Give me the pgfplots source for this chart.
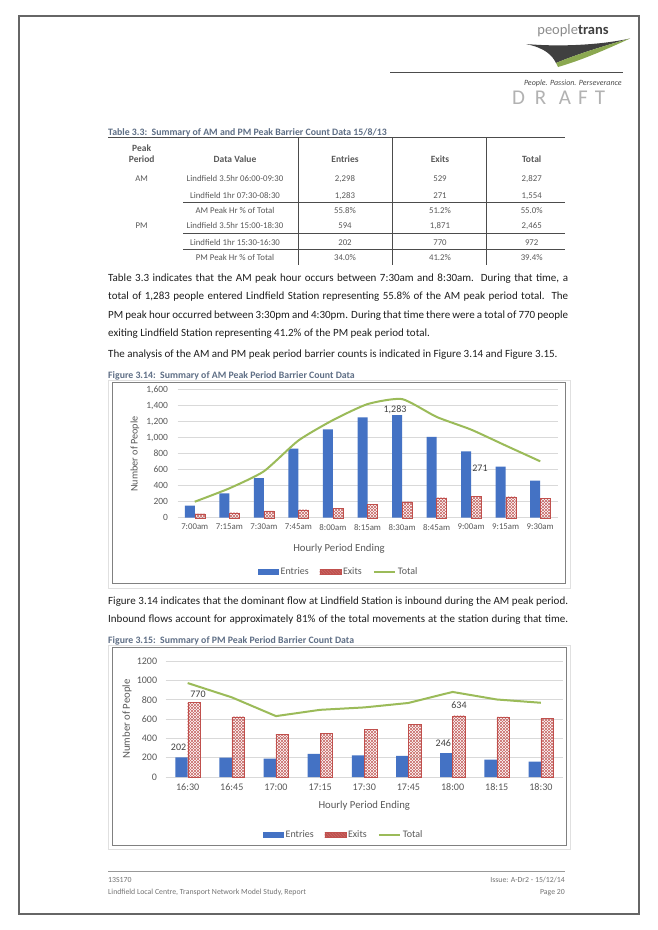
\documentclass[border=0pt]{standalone}
\usepackage{fontspec}
\setmainfont{Carlito}
\usepackage{pgfplots}
\pgfplotsset{compat=1.18}
\usetikzlibrary{patterns}
\definecolor{entblue}{HTML}{4472C4}
\definecolor{exred}{HTML}{C0504D}
\definecolor{totgreen}{HTML}{9BBB59}
\definecolor{txtgray}{HTML}{595959}
\definecolor{capblue}{HTML}{5F6F86}
\definecolor{gridgray}{HTML}{D9D9D9}
\definecolor{bodytext}{HTML}{1E1E1E}
\definecolor{lblgray}{HTML}{404040}
\newcommand{\fs}[1]{\fontsize{#1}{#1}\selectfont}
\newcommand{\jline}[3]{\node[anchor=base west, inner sep=0pt, font=\fs{11}, text=bodytext] at (108,-#1) {\makebox[#2pt][s]{#3}};}
\newcommand{\trow}[6]{%
 \node[anchor=base] at (141.7,-#1) {#2};
 \node[anchor=base] at (235,-#1) {#3};
 \node[anchor=base] at (345,-#1) {#4};
 \node[anchor=base] at (440,-#1) {#5};
 \node[anchor=base] at (531.7,-#1) {#6};}
\pgfplotsset{
 entstyle/.style={ybar, fill=entblue, draw=none,
   legend image code/.code={\fill[entblue] (0pt,-2.6pt) rectangle (21pt,2.6pt);}},
 exstyle/.style={ybar, draw=exred, line width=0.3pt, pattern=north east lines, pattern color=exred!85,
   postaction={pattern=north west lines, pattern color=exred!85},
   legend image code/.code={\path[pattern=north east lines, pattern color=exred!85] (0pt,-2.6pt) rectangle (21pt,2.6pt);
     \path[pattern=north west lines, pattern color=exred!85] (0pt,-2.6pt) rectangle (21pt,2.6pt);
     \draw[exred, line width=0.3pt] (0pt,-2.6pt) rectangle (21pt,2.6pt);}},
 totstyle/.style={totgreen, line width=2pt, mark=none,
   legend image code/.code={\draw[totgreen, line width=2pt] (0pt,0pt) -- (21pt,0pt);}},
 chartbase/.style={scale only axis, clip=false,
   ymajorgrids, grid style={gridgray, line width=0.6pt},
   axis line style={draw=none}, major tick length=0pt,
   /pgf/number format/assume math mode=true, scaled y ticks=false,
   tick label style={text=txtgray},
   legend style={draw=none, fill=none, text=txtgray, legend columns=3, inner sep=0pt,
     /tikz/every even column/.append style={column sep=9pt}},
   legend cell align=left}
}
\begin{document}
\begin{tikzpicture}[x=1pt,y=1pt]
\fill[white] (0,0) rectangle (658,-930);
\path[use as bounding box] (0,0) rectangle (658,-930);
\coordinate (A1) at (177.5,-517.7);
\coordinate (A2) at (165.6,-777);
% page frame
\draw[black!60, line width=1.2pt] (19,-16) rectangle (639,-914);
% header logo
\node[anchor=center, inner sep=0pt] at (573,-31) {\fs{14.5}\color{black!45}people\textbf{\color{black!75}trans}};
\fill[black!75] (526,-44) .. controls (560,-47) and (600,-45) .. (630,-38.5) .. controls (600,-47) and (575,-55) .. (556,-63) .. controls (552,-55) and (545,-48) .. (526,-44) -- cycle;
\fill[totgreen!90!black] (556,-63) .. controls (575,-55) and (600,-47) .. (630,-38.5) .. controls (605,-50) and (582,-60) .. (558,-67) -- cycle;
\draw[black!70, line width=0.9pt] (390,-72.3) -- (623,-72.3);
\node[anchor=base east, inner sep=0pt, font=\fs{8}\itshape, text=black!70] at (622,-85) {People. Passion. Perseverance};
\begin{scope}[every node/.style={font=\fs{21}, text=black!30, inner sep=0pt}]
\node at (518.5,-98) {D};
\node at (540.5,-98) {R};
\node at (565,-98) {A};
\node at (583,-98) {F};
\node at (600,-98) {T};
\end{scope}
% table
\node[anchor=base west, inner sep=0pt, font=\fs{9.8}\bfseries, text=capblue] at (108,-135) {Table 3.3:\ \ Summary of AM and PM Peak Barrier Count Data 15/8/13};
\draw[black!70, line width=0.6pt] (108,-137.5) -- (565,-137.5);
\foreach \xx in {298,392,486} {\draw[black!70, line width=0.6pt] (\xx,-137.5) -- (\xx,-265);}
\foreach \yy in {202.3,233.3,249.3} {\draw[black!70, line width=0.6pt] (183,-\yy) -- (565,-\yy);}
\begin{scope}[every node/.style={font=\fs{9.5}\bfseries, text=txtgray, inner sep=0pt}]
\node[anchor=base] at (141.7,-151) {Peak};
\trow{162.5}{Period}{Data Value}{Entries}{Exits}{Total}
\end{scope}
\begin{scope}[every node/.style={font=\fs{8.8}, text=txtgray, inner sep=0pt}]
\trow{181.7}{AM}{Lindfield 3.5hr 06:00-09:30}{2,298}{529}{2,827}
\trow{198.3}{}{Lindfield 1hr 07:30-08:30}{1,283}{271}{1,554}
\trow{213.3}{}{AM Peak Hr \% of Total}{55.8\%}{51.2\%}{55.0\%}
\trow{228.3}{PM}{Lindfield 3.5hr 15:00-18:30}{594}{1,871}{2,465}
\trow{245}{}{Lindfield 1hr 15:30-16:30}{202}{770}{972}
\trow{260.3}{}{PM Peak Hr \% of Total}{34.0\%}{41.2\%}{39.4\%}
\end{scope}
% body text
\jline{281}{460}{Table 3.3 indicates that the AM peak hour occurs between 7:30am and 8:30am.\ \ During that time, a}
\jline{299.5}{460}{total of 1,283 people entered Lindfield Station representing 55.8\% of the AM peak period total.\ \ The}
\jline{318}{460}{PM peak hour occurred between 3:30pm and 4:30pm. During that time there were a total of 770 people}
\node[anchor=base west, inner sep=0pt, font=\fs{11}, text=bodytext] at (108,-336) {exiting Lindfield Station representing 41.2\% of the PM peak period total.};
\node[anchor=base west, inner sep=0pt, font=\fs{11}, text=bodytext] at (108,-357.5) {The analysis of the AM and PM peak period barrier counts is indicated in Figure 3.14 and Figure 3.15.};
% figure 3.14
\node[anchor=base west, inner sep=0pt, font=\fs{9.8}\bfseries, text=capblue] at (108,-378.5) {Figure 3.14:\ \ Summary of AM Peak Period Barrier Count Data};
\draw[black!12, line width=0.8pt] (108,-380) rectangle (570,-588.5);
\draw[black!50, line width=0.8pt] (112,-382.5) rectangle (565,-583);
\begin{axis}[chartbase,
 at={(A1)}, anchor=south west, width=380pt, height=128pt,
 xmin=-0.5, xmax=10.5, ymin=0, ymax=1600,
 ytick={0,200,...,1600}, xtick={0,...,10},
 xticklabels={7:00am,7:15am,7:30am,7:45am,8:00am,8:15am,8:30am,8:45am,9:00am,9:15am,9:30am},
 xticklabel style={font=\fs{8.8}, yshift=-3pt},
 yticklabel style={font=\fs{9.5}, xshift=-6pt},
 /pgf/number format/1000 sep={,},
 legend style={at={(0.4237,-0.424)}, anchor=center, font=\fs{10}},
]
\addplot[entstyle, bar width=10pt, bar shift=-5pt] coordinates {(0,150) (1,305) (2,495) (3,865) (4,1105) (5,1255) (6,1283) (7,1010) (8,830) (9,640) (10,465)};
\addlegendentry{Entries}
\addplot[exstyle, bar width=10pt, bar shift=5pt] coordinates {(0,50) (1,62) (2,85) (3,100) (4,115) (5,165) (6,200) (7,250) (8,271) (9,262) (10,240)};
\addlegendentry{Exits}
\addplot[totstyle, smooth, tension=0.35] coordinates {(0,200) (1,367) (2,580) (3,965) (4,1220) (5,1420) (6,1483) (7,1260) (8,1101) (9,902) (10,705)};
\addlegendentry{Total}
\end{axis}
\node[font=\fs{10}, text=lblgray] at (395,-409.3) {1,283};
\node[font=\fs{10}, text=lblgray] at (480,-468.3) {271};
\node[font=\fs{10.7}, text=txtgray] at (339,-549) {Hourly Period Ending};
\node[font=\fs{10.2}, text=txtgray, rotate=90] at (135,-454) {Number of People};
% text between
\jline{604.7}{460}{Figure 3.14 indicates that the dominant flow at Lindfield Station is inbound during the AM peak period.}
\jline{622.3}{460}{Inbound flows account for approximately 81\% of the total movements at the station during that time.}
% figure 3.15
\node[anchor=base west, inner sep=0pt, font=\fs{9.8}\bfseries, text=capblue] at (108,-643.5) {Figure 3.15:\ \ Summary of PM Peak Period Barrier Count Data};
\draw[black!12, line width=0.8pt] (108,-645) rectangle (570,-849.5);
\draw[black!50, line width=0.8pt] (112,-647.7) rectangle (566,-845.7);
\begin{axis}[chartbase,
 at={(A2)}, anchor=south west, width=397.4pt, height=116pt,
 xmin=-0.5, xmax=8.5, ymin=0, ymax=1200,
 ytick={0,200,...,1200}, xtick={0,...,8},
 xticklabels={16:30,16:45,17:00,17:15,17:30,17:45,18:00,18:15,18:30},
 xticklabel style={font=\fs{10.1}, yshift=-3.5pt},
 yticklabel style={font=\fs{10}, xshift=-5pt},
 /pgf/number format/1000 sep={},
 legend style={at={(0.4477,-0.5)}, anchor=center, font=\fs{10}},
]
\addplot[entstyle, bar width=12.4pt, bar shift=-6.2pt] coordinates {(0,202) (1,200) (2,190) (3,240) (4,225) (5,218) (6,246) (7,180) (8,158)};
\addlegendentry{Entries}
\addplot[exstyle, bar width=12.4pt, bar shift=6.2pt] coordinates {(0,770) (1,624) (2,440) (3,455) (4,495) (5,548) (6,634) (7,622) (8,610)};
\addlegendentry{Exits}
\addplot[totstyle, sharp plot] coordinates {(0,972) (1,824) (2,630) (3,695) (4,720) (5,766) (6,880) (7,802) (8,768)};
\addlegendentry{Total}
\end{axis}
\node[font=\fs{10}, text=lblgray] at (198,-694) {770};
\node[font=\fs{10}, text=lblgray] at (178.6,-747.3) {202};
\node[font=\fs{10}, text=lblgray] at (443.3,-743.3) {246};
\node[font=\fs{10}, text=lblgray] at (459,-705.3) {634};
\node[font=\fs{10.7}, text=txtgray] at (364.3,-805.7) {Hourly Period Ending};
\node[font=\fs{10.7}, text=txtgray, rotate=90] at (127,-719) {Number of People};
% footer
\draw[black!40, line width=0.6pt] (108,-871.7) -- (565,-871.7);
\begin{scope}[every node/.style={font=\fs{7.8}, text=black!55, inner sep=0pt}]
\node[anchor=base west] at (108,-882) {13S170};
\node[anchor=base west] at (108,-894.5) {Lindfield Local Centre, Transport Network Model Study, Report};
\node[anchor=base east] at (565,-882) {Issue: A-Dr2 - 15/12/14};
\node[anchor=base east] at (565,-894.5) {Page 20};
\end{scope}
\end{tikzpicture}
\end{document}
